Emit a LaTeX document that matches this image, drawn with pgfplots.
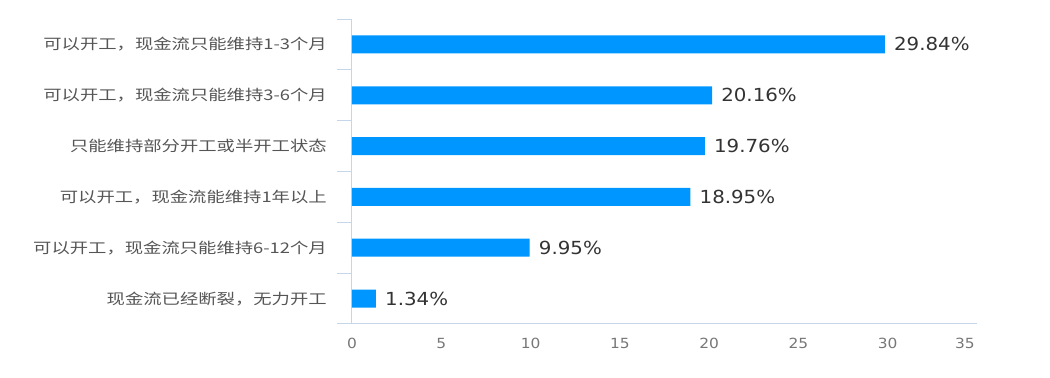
\documentclass[border=0pt]{standalone}
\usepackage{pgfplots}
\pgfplotsset{compat=1.18}
\usepackage{fontspec}
\setmainfont{DejaVu Sans}
\newfontfamily\cjk{Noto Sans CJK SC}[FakeStretch=1.25]
\newfontfamily\num{DejaVu Sans}[FakeStretch=1.1]
\definecolor{barblue}{HTML}{0096FF}
\definecolor{axblue}{HTML}{C5D5EA}
\definecolor{lblgray}{HTML}{555555}
\definecolor{tickgray}{HTML}{777777}
\definecolor{valgray}{HTML}{333333}
\begin{document}
\begin{tikzpicture}
\path[use as bounding box] (0,0) rectangle (787.5pt,283.5pt);
\begin{axis}[
  at={(264pt,40.5pt)}, anchor=south west,
  scale only axis, width=468.75pt, height=228.75pt,
  xbar, bar width=13.5pt,
  xmin=0, xmax=35, ymin=-0.5, ymax=5.5,
  axis x line*=bottom, axis y line*=left,
  axis line style={axblue, line width=0.75pt, -},
  xtick={0,5,...,30},
  extra x ticks={35},
  extra x tick style={xticklabel style={xshift=-9pt}},
  ytick={0,1,2,3,4,5},
  yticklabels={{现金流已经断裂，无力开工},{可以开工，现金流只能维持6-12个月},{可以开工，现金流能维持1年以上},{只能维持部分开工或半开工状态},{可以开工，现金流只能维持3-6个月},{可以开工，现金流只能维持1-3个月}},
  minor ytick={-0.5,0.5,...,5.5},
  major tick length=0pt,
  minor tick length=11.25pt,
  tick align=outside,
  minor tick style={axblue, line width=0.75pt},
  major tick style={draw=none},
  yticklabel style={anchor=east, inner sep=0pt, xshift=-18.75pt, font=\cjk\fontsize{11pt}{12pt}\selectfont, text=lblgray},
  xticklabel style={anchor=center, inner sep=0pt, yshift=-14.25pt, font=\num\fontsize{10.5pt}{12pt}\selectfont, text=tickgray},
  /pgf/number format/assume math mode=true,
  nodes near coords={\pgfmathprintnumber[fixed,precision=2,fixed zerofill]{\pgfplotspointmeta}\%},
  point meta=x,
  nodes near coords style={anchor=west, inner sep=0pt, xshift=6.75pt, font=\num\fontsize{13.5pt}{15pt}\selectfont, text=valgray},
  clip=false,
]
\addplot[fill=barblue, draw=none] coordinates {
  (1.34,0) (9.95,1) (18.95,2) (19.76,3) (20.16,4) (29.84,5)
};
\end{axis}
\end{tikzpicture}
\end{document}
